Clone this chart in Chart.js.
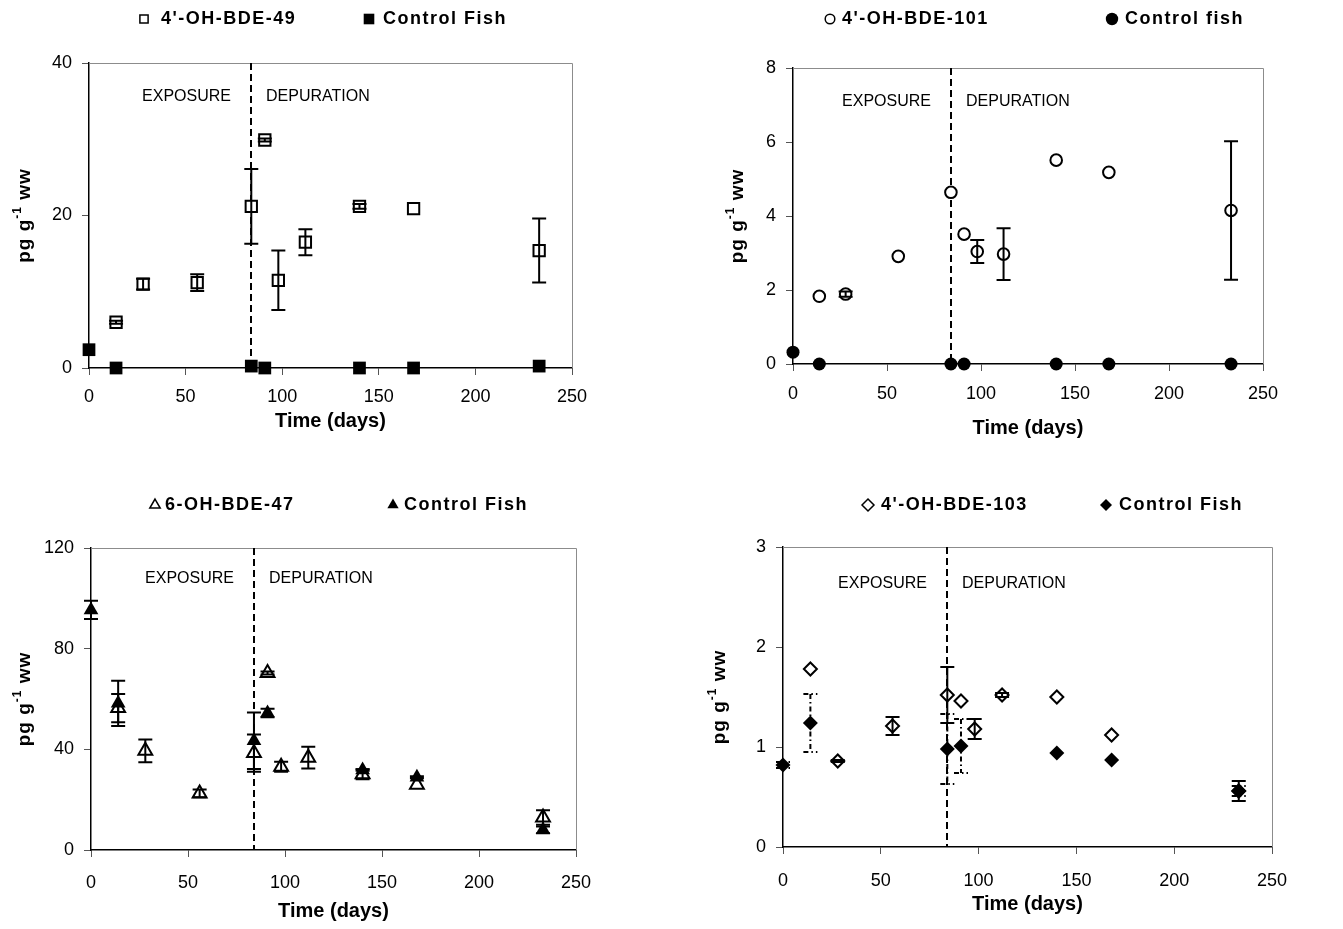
<!DOCTYPE html>
<html>
<head>
<meta charset="utf-8">
<script src="https://cdn.jsdelivr.net/npm/chart.js@4.4.1/dist/chart.umd.min.js"></script>
<style>
  html, body { margin: 0; padding: 0; background: #fff; overflow: hidden; }
</style>
</head>
<body>
<script>
"use strict";

// sampling days
const days = [14, 28, 56, 84, 91, 98, 112, 140, 168, 233];
const controlDays = [0, 14, 84, 91, 140, 168, 233];
const endOfExposure = 84;

// 4'-OH-BDE-49
const oh49 = [6.0, 11.0, 11.2, 21.2, 29.9, 11.5, 16.5, 21.2, 20.9, 15.4];
const oh49Sd = [0.2, 0.7, 1.1, 4.9, 0.2, 3.9, 1.7, 0.3, 0, 4.2];
const oh49Control = [2.4, 0, 0.25, 0, 0, 0, 0.25];
const oh49ControlSd = [0, 0, 0, 0, 0, 0, 0];

// 4'-OH-BDE-101
const oh101 = [1.83, 1.89, 2.91, 4.64, 3.51, 3.04, 2.97, 5.51, 5.18, 4.15];
const oh101Sd = [0, 0.07, 0, 0, 0, 0.31, 0.70, 0, 0, 1.87];
const oh101Control = [0.32, 0, 0, 0, 0, 0, 0];
const oh101ControlSd = [0, 0, 0, 0, 0, 0, 0];

// 6-OH-BDE-47
const oh47 = [56.4, 39.4, 22.5, 38.5, 70.3, 33.1, 36.7, 30.1, 25.9, 12.9];
const oh47Sd = [5.6, 4.5, 1.5, 7.4, 0.6, 2.0, 4.3, 2.0, 0, 2.9];
const oh47Control = [95.4, 58.3, 43.4, 54.4, 31.8, 28.9, 8.0];
const oh47ControlSd = [3.6, 9.0, 11.2, 1.7, 0.3, 0.4, 1.3];

// 4'-OH-BDE-103
const oh103 = [1.78, 0.86, 1.21, 1.52, 1.46, 1.18, 1.52, 1.50, 1.12, 0.56];
const oh103Sd = [0, 0.01, 0.09, 0.28, 0, 0.10, 0.02, 0, 0, 0.10];
const oh103Control = [0.82, 1.24, 0.98, 1.01, 0.94, 0.87, 0.56];
const oh103ControlSd = [0.03, 0.29, 0.35, 0.27, 0, 0, 0.05];

const FONT = "'Liberation Sans', Arial, sans-serif";

const points = (xs, ys) => xs.map((x, i) => ({x, y: ys[i]}));

const panels = [
    {
        box: [0, 0, 671, 464], area: [89, 63, 572, 368],
        yMax: 40, yStep: 20, xPad: 11, titlePad: 31,
        legendY: 19, legendX: [[144, 161], [369, 383]], yTitleX: 25, phaseY: 34,
        series: [
            {label: "4'-OH-BDE-49", x: days, y: oh49, sd: oh49Sd, style: "rect", r: 8, lr: 5.8},
            {label: "Control Fish", x: controlDays, y: oh49Control, sd: oh49ControlSd, style: "rect", r: 9, lr: 7.5, filled: true}
        ]
    },
    {
        box: [671, 0, 672, 464], area: [793, 68, 1263, 364],
        yMax: 8, yStep: 2, xPad: 12, titlePad: 24,
        legendY: 19, legendX: [[830, 842], [1112, 1125]], yTitleX: 738, phaseY: 34,
        series: [
            {label: "4'-OH-BDE-101", x: days, y: oh101, sd: oh101Sd, style: "circle", r: 5.8, lr: 4.8},
            {label: "Control fish", x: controlDays, y: oh101Control, sd: oh101ControlSd, style: "circle", r: 6.5, lr: 6.2, filled: true}
        ]
    },
    {
        box: [0, 464, 671, 465], area: [91, 548, 576, 850],
        yMax: 120, yStep: 40, xPad: 15, titlePad: 6,
        legendY: 505, legendX: [[155, 165], [393, 404]], yTitleX: 25, phaseY: 31,
        series: [
            {label: "6-OH-BDE-47", x: days, y: oh47, sd: oh47Sd, style: "triangle", r: 8, lr: 6},
            {label: "Control Fish", x: controlDays, y: oh47Control, sd: oh47ControlSd, style: "triangle", r: 8.5, lr: 6.5, filled: true}
        ]
    },
    {
        box: [671, 464, 672, 465], area: [783, 547, 1272, 847],
        yMax: 3, yStep: 1, xPad: 16, titlePad: 13,
        legendY: 505, legendX: [[868, 881], [1106, 1119]], yTitleX: 720, phaseY: 37,
        series: [
            {label: "4'-OH-BDE-103", x: days, y: oh103, sd: oh103Sd, style: "rectRot", r: 6.5, lr: 6},
            {label: "Control Fish", x: controlDays, y: oh103Control, sd: oh103ControlSd, style: "rectRot", r: 7.5, lr: 6, filled: true, dash: [5, 3, 1.5, 3]}
        ]
    }
];

function drawYTitle (ctx, cx, cy) {
    const parts = [
        {t: "pg g", f: `bold 19px ${FONT}`, dy: 0},
        {t: "-1", f: `bold 12px ${FONT}`, dy: -7},
        {t: " ww", f: `bold 19px ${FONT}`, dy: 0}
    ];
    let total = 0, x;

    ctx.save();
    ctx.translate(cx, cy);
    ctx.rotate(-Math.PI / 2);
    ctx.letterSpacing = "1px";
    ctx.textBaseline = "middle";
    ctx.textAlign = "left";
    ctx.fillStyle = "#000";
    parts.forEach(q => { ctx.font = q.f; q.w = ctx.measureText(q.t).width; total += q.w; });
    x = -total / 2;
    parts.forEach(q => { ctx.font = q.f; ctx.fillText(q.t, x, q.dy); x += q.w; });
    ctx.restore();
}

// frame, phase marker, error bars, legend and y title
function decorations (p) {
    const [bl, bt] = p.box;

    return {
        id: "decor",
        beforeDatasetsDraw (chart) {
            const {ctx, chartArea: a, scales: {x}} = chart;
            const px = Math.round(x.getPixelForValue(endOfExposure));

            ctx.save();
            ctx.strokeStyle = "#8c8c8c";
            ctx.lineWidth = 1;
            ctx.beginPath();
            ctx.moveTo(a.left, a.top + 0.5);
            ctx.lineTo(a.right + 0.5, a.top + 0.5);
            ctx.lineTo(a.right + 0.5, a.bottom);
            ctx.stroke();

            ctx.strokeStyle = "#000";
            ctx.lineWidth = 2;
            ctx.setLineDash([7, 4]);
            ctx.beginPath();
            ctx.moveTo(px, a.top);
            ctx.lineTo(px, a.bottom);
            ctx.stroke();
            ctx.setLineDash([]);

            ctx.font = `16px ${FONT}`;
            ctx.fillStyle = "#000";
            ctx.textBaseline = "middle";
            ctx.textAlign = "right";
            ctx.fillText("EXPOSURE", px - 20, a.top + p.phaseY);
            ctx.textAlign = "left";
            ctx.fillText("DEPURATION", px + 15, a.top + p.phaseY);
            ctx.restore();
        },
        afterDatasetsDraw (chart) {
            const {ctx, scales: {x, y}} = chart;

            ctx.save();
            ctx.strokeStyle = "#000";
            ctx.lineWidth = 2;
            chart.data.datasets.forEach(ds => {
                ctx.setLineDash(ds.errorDash || []);
                ds.data.forEach((pt, j) => {
                    const e = ds.errors[j];
                    if (!e) return;
                    const px = x.getPixelForValue(pt.x),
                        hi = y.getPixelForValue(pt.y + e),
                        lo = y.getPixelForValue(pt.y - e);
                    ctx.beginPath();
                    ctx.moveTo(px, hi);
                    ctx.lineTo(px, lo);
                    ctx.moveTo(px - 7, hi);
                    ctx.lineTo(px + 7, hi);
                    ctx.moveTo(px - 7, lo);
                    ctx.lineTo(px + 7, lo);
                    ctx.stroke();
                });
            });
            ctx.restore();
        },
        afterDraw (chart) {
            const ctx = chart.ctx;

            ctx.save();
            ctx.textBaseline = "middle";
            ctx.textAlign = "left";
            chart.data.datasets.forEach((ds, i) => {
                const [mx, tx] = p.legendX[i];
                ctx.fillStyle = ds.backgroundColor;
                ctx.strokeStyle = "#000";
                ctx.lineWidth = 1.5;
                Chart.helpers.drawPoint(ctx, {
                    pointStyle: ds.pointStyle,
                    radius: ds.legendRadius,
                    borderWidth: ds.filled ? 0 : 1.5,
                    rotation: 0
                }, mx - bl, p.legendY - bt);
                ctx.fillStyle = "#000";
                ctx.font = `bold 18px ${FONT}`;
                ctx.letterSpacing = "1.5px";
                ctx.fillText(ds.label, tx - bl, p.legendY - bt);
                ctx.letterSpacing = "0px";
            });
            ctx.restore();

            drawYTitle(ctx, p.yTitleX - bl, (chart.chartArea.top + chart.chartArea.bottom) / 2);
        }
    };
}

function panelChart (p) {
    const [bl, bt, bw, bh] = p.box;
    const [al, at, ar, ab] = p.area;
    const wrap = document.createElement("div");
    const canvas = wrap.appendChild(document.createElement("canvas"));

    wrap.style.cssText = `position:absolute;left:${bl}px;top:${bt}px;width:${bw}px;height:${bh}px`;
    canvas.width = bw;
    canvas.height = bh;
    document.body.appendChild(wrap);

    const tickFont = {family: FONT, size: 18};

    return new Chart(canvas, {
        type: "scatter",
        data: {
            datasets: p.series.map(s => ({
                label: s.label,
                data: points(s.x, s.y),
                errors: s.sd,
                errorDash: s.dash,
                filled: !!s.filled,
                legendRadius: s.lr,
                order: s.filled ? 0 : 1,
                pointStyle: s.style,
                pointRadius: s.r,
                pointBorderWidth: s.filled ? 0 : 2,
                backgroundColor: s.filled ? "#000" : "#fff",
                borderColor: "#000",
                showLine: false,
                clip: false
            }))
        },
        options: {
            responsive: false,
            animation: false,
            events: [],
            layout: {padding: {left: 0, top: at - bt, right: bl + bw - ar, bottom: 0}},
            scales: {
                x: {
                    type: "linear",
                    min: 0,
                    max: 250,
                    ticks: {stepSize: 50, padding: p.xPad, color: "#000", font: tickFont, maxRotation: 0, autoSkip: false},
                    grid: {drawOnChartArea: false, tickLength: 7, color: "#555"},
                    border: {color: "#000", width: 1.5},
                    title: {
                        display: true,
                        text: "Time (days)",
                        color: "#000",
                        font: {family: FONT, size: 20, weight: "bold"},
                        padding: {top: 0, bottom: p.titlePad}
                    },
                    afterFit: s => { s.height = bh - (ab - bt); }
                },
                y: {
                    type: "linear",
                    min: 0,
                    max: p.yMax,
                    ticks: {stepSize: p.yStep, padding: 10, color: "#000", font: tickFont},
                    grid: {drawOnChartArea: false, tickLength: 7, color: "#555"},
                    border: {color: "#000", width: 1.5},
                    afterFit: s => { s.width = al - bl; }
                }
            },
            plugins: {
                legend: {display: false},
                tooltip: {enabled: false}
            }
        },
        plugins: [decorations(p)]
    });
}

panels.forEach(panelChart);
</script>
</body>
</html>
